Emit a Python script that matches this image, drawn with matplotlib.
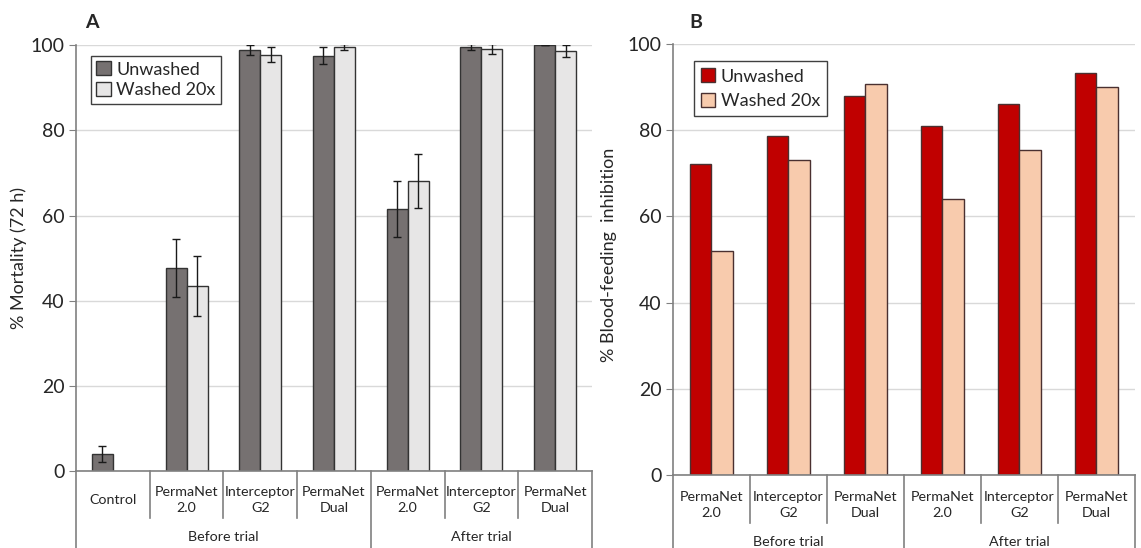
import numpy as np
import matplotlib
matplotlib.use("Agg")
import matplotlib.pyplot as plt
from matplotlib.patches import Patch
from matplotlib.transforms import blended_transform_factory

plt.rcParams['font.family'] = ['Lato', 'DejaVu Sans']

# Panel A: mortality (72 h)
cats_a = ["Control", "PermaNet\n2.0", "Interceptor\nG2", "PermaNet\nDual",
          "PermaNet\n2.0", "Interceptor\nG2", "PermaNet\nDual"]
groups_a = ["Before trial", "After trial"]
group_sizes_a = [4, 3]
mort_unwashed = [4.1, 47.7, 98.8, 97.5, 61.5, 99.5, 100.0]
mort_unwashed_err = [1.9, 6.7, 1.2, 2.0, 6.6, 0.7, 0.0]
mort_washed = [np.nan, 43.5, 97.7, 99.5, 68.1, 99.0, 98.6]
mort_washed_err = [np.nan, 7.0, 1.8, 0.7, 6.3, 1.2, 1.4]

# Panel B: blood-feeding inhibition
cats_b = ["PermaNet\n2.0", "Interceptor\nG2", "PermaNet\nDual",
          "PermaNet\n2.0", "Interceptor\nG2", "PermaNet\nDual"]
groups_b = ["Before trial", "After trial"]
group_sizes_b = [3, 3]
feed_unwashed = [72.2, 78.7, 87.9, 80.9, 86.1, 93.3]
feed_washed = [51.9, 73.1, 90.7, 64.1, 75.5, 90.1]

TXT = '#262626'
AXC = '#808080'

fig = plt.figure(figsize=(11.41, 5.48), dpi=100)
ax_a = fig.add_axes([0.0666, 0.1396, 0.4522, 0.7783])
ax_b = fig.add_axes([0.5898, 0.1332, 0.4049, 0.7865])


def style_axis(ax, n):
    ax.set_xlim(-0.5, n - 0.5)
    ax.set_ylim(0, 100)
    ax.set_yticks([0, 20, 40, 60, 80, 100])
    ax.set_xticks([])
    ax.grid(axis='y', color='#d9d9d9', lw=1)
    ax.set_axisbelow(True)
    for s in ['top', 'right']:
        ax.spines[s].set_visible(False)
    for s in ['left', 'bottom']:
        ax.spines[s].set_color(AXC)
        ax.spines[s].set_linewidth(1.2)
    ax.tick_params(axis='y', length=5, color=AXC, labelsize=14,
                   labelcolor=TXT, pad=3)


def category_axis(ax, cats, groups, sizes, y_lab, y_sep, y_grp):
    # multi-level category labels under the axis
    tr = blended_transform_factory(ax.transData, fig.transFigure)
    ybase = ax.get_position().y0
    n = len(cats)
    for i, c in enumerate(cats):
        ax.text(i, y_lab, c, transform=tr, ha='center', va='center',
                fontsize=10.3, color=TXT, linespacing=1.4)
    bounds = np.cumsum([0] + sizes)
    for i in range(1, n):
        bottom = 0 if i in bounds else y_sep
        ax.plot([i - 0.5, i - 0.5], [ybase, bottom], transform=tr,
                color=AXC, lw=1.2, clip_on=False)
    for x in [-0.5, n - 0.5]:
        ax.plot([x, x], [ybase, 0], transform=tr, color=AXC, lw=1.2,
                clip_on=False)
    for g, a, b in zip(groups, bounds[:-1], bounds[1:]):
        ax.text((a + b - 1) / 2, y_grp, g, transform=tr, ha='center',
                va='center', fontsize=10.3, color=TXT)


# ---- panel A
x = np.arange(len(cats_a))
w = 0.285
ax_a.bar(x - w / 2, mort_unwashed, w, color='#767171', edgecolor='#333333',
         lw=1, label='Unwashed')
ax_a.bar(x + w / 2, mort_washed, w, color='#e7e6e6', edgecolor='#333333',
         lw=1, label='Washed 20x')
ax_a.errorbar(x - w / 2, mort_unwashed, yerr=mort_unwashed_err, fmt='none',
              ecolor='#1a1a1a', elinewidth=1, capsize=3, capthick=1)
ax_a.errorbar(x + w / 2, mort_washed, yerr=mort_washed_err, fmt='none',
              ecolor='#1a1a1a', elinewidth=1, capsize=3, capthick=1)
style_axis(ax_a, len(cats_a))
category_axis(ax_a, cats_a, groups_a, group_sizes_a, 0.0876, 0.0547, 0.0201)
ax_a.set_ylabel('% Mortality (72 h)', fontsize=13, color=TXT)
ax_a.yaxis.set_label_coords(-0.095, 0.5)
ax_a.text(0.018, 1.052, 'A', transform=ax_a.transAxes, fontsize=14,
          fontweight='bold', color=TXT, va='center')
h_a = [Patch(facecolor='#767171', edgecolor='#333333'),
       Patch(facecolor='#e7e6e6', edgecolor='#333333')]
leg = ax_a.legend(h_a, ['Unwashed', 'Washed 20x'], loc='upper left',
                  bbox_to_anchor=(0.029, 0.974), borderaxespad=0,
                  fontsize=13, fancybox=False, handlelength=0.8,
                  handleheight=0.8, handletextpad=0.3, borderpad=0.3,
                  labelspacing=0.25, framealpha=1)
leg.get_frame().set_edgecolor('#404040')
for t in leg.get_texts():
    t.set_color(TXT)

# ---- panel B
x = np.arange(len(cats_b))
w = 0.28
ax_b.bar(x - w / 2, feed_unwashed, w, color='#c00000', edgecolor='#4a3030',
         lw=1, label='Unwashed')
ax_b.bar(x + w / 2, feed_washed, w, color='#f8cbad', edgecolor='#4a3030',
         lw=1, label='Washed 20x')
style_axis(ax_b, len(cats_b))
category_axis(ax_b, cats_b, groups_b, group_sizes_b, 0.0785, 0.0456, 0.0115)
ax_b.set_ylabel('% Blood-feeding  inhibition', fontsize=13, color=TXT)
ax_b.yaxis.set_label_coords(-0.121, 0.51)
ax_b.text(0.035, 1.05, 'B', transform=ax_b.transAxes, fontsize=14,
          fontweight='bold', color=TXT, va='center')
h_b = [Patch(facecolor='#c00000', edgecolor='#4a3030'),
       Patch(facecolor='#f8cbad', edgecolor='#4a3030')]
leg = ax_b.legend(h_b, ['Unwashed', 'Washed 20x'], loc='upper left',
                  bbox_to_anchor=(0.045, 0.96), borderaxespad=0,
                  fontsize=13, fancybox=False, handlelength=0.8,
                  handleheight=0.8, handletextpad=0.3, borderpad=0.4,
                  labelspacing=0.45, framealpha=1)
leg.get_frame().set_edgecolor('#404040')
for t in leg.get_texts():
    t.set_color(TXT)

fig.savefig('out.png', dpi=100)
